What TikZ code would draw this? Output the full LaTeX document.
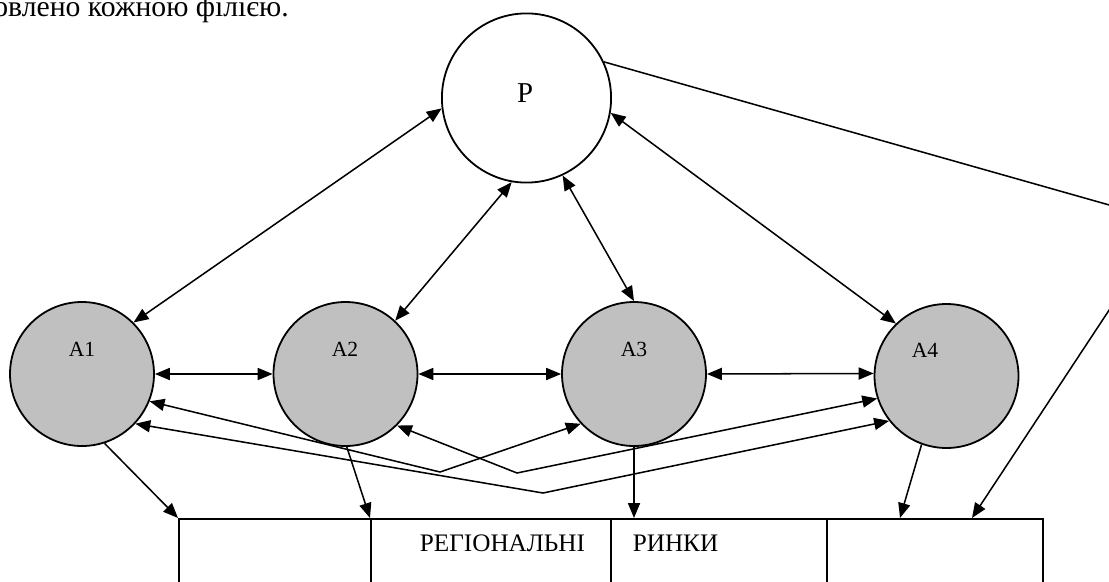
\documentclass[tikz,border=0pt]{standalone}
\usepackage{fontspec}
\setmainfont{Liberation Serif}
\usetikzlibrary{arrows.meta}
\definecolor{agentgray}{HTML}{C0C0C0}
\begin{document}
\begin{tikzpicture}[x=0.5556pt,y=-0.5556pt,
  tip/.tip={Triangle[length=8.3pt,width=6.7pt]},
  conn/.style={line width=0.85pt,-tip},
  biconn/.style={line width=0.85pt,tip-tip},
  agent/.style={circle,draw,line width=1pt,fill=agentgray,minimum size=80pt,inner sep=0pt},
  centre/.style={circle,draw,line width=1pt,fill=white,minimum size=94pt,inner sep=0pt},
  market/.style={rectangle,draw,line width=0.85pt,anchor=north west,minimum height=83pt,inner sep=0pt},
  lbl/.style={anchor=base,inner sep=0pt,font=\fontsize{12}{14}\selectfont},
  mlbl/.style={anchor=base,inner sep=0pt,font=\fontsize{14}{16}\selectfont}
]
\useasboundingbox (0,0) rectangle (1109,581);
\clip (0,0) rectangle (1109,581);

\node[anchor=base west,inner sep=0pt,font=\fontsize{16.5}{19}\selectfont] (top) at (-7,16.5) {овлено кожною філією.};

% circles
\node[centre] (P) at (526.5,98) {};
\node[agent] (A1) at (82,374) {};
\node[agent] (A2) at (345.5,374) {};
\node[agent] (A3) at (634,374) {};
\node[agent] (A4) at (946.5,376) {};

\node[anchor=base,inner sep=0pt,font=\fontsize{16}{19}\selectfont] (lP) at (525,102.7) {P};
\node[lbl] (l1) at (82,356) {A1};
\node[lbl] (l2) at (345,356) {A2};
\node[lbl] (l3) at (634,356) {A3};
\node[lbl] (l4) at (925,357.5) {A4};

% markets
\node[market,minimum width=106.7pt] (b1) at (178,518) {};
\node[market,minimum width=133.3pt] (b2) at (370,518) {};
\node[market,minimum width=120pt] (b3) at (610,518) {};
\node[market,minimum width=120pt] (b4) at (826,518) {};
\node[mlbl] (m1) at (502.5,551.7) {РЕГІОНАЛЬНІ};
\node[mlbl] (m2) at (675.5,551.7) {РИНКИ};

% coordinates
\coordinate (t3) at (634,518);
\coordinate (t4) at (900,518);
\coordinate (t5) at (972,518);
\coordinate (v1) at (440,472);
\coordinate (v2) at (517,473);
\coordinate (v3) at (543,493);
\coordinate (vr) at (1167.5,221.5);

% P links
\draw[biconn] (P.187) -- (A1.45);
\draw[biconn] (P.260) -- (A2.47.6);
\draw[biconn] (P.295.4) -- (A3.90);
\draw[biconn] (P.350.6) -- (A4.134);
\draw[conn] (P.25.2) -- (vr) -- (t5);

% horizontal links
\draw[biconn] (A1.0) -- (A2.180);
\draw[biconn] (A2.0) -- (A3.180);
\draw[biconn] (A3.0) -- (A4.178.4);

% crossing links
\draw[biconn] (A1.338) -- (v1) -- (A3.223);
\draw[biconn] (A2.315) -- (v2) -- (A4.198.6);
\draw[biconn] (A1.317) -- (v3) -- (A4.218.8);

% to markets
\draw[conn] (A1.288.4) -- (b1.north west);
\draw[conn] (A2.271) -- (b2.north west);
\draw[conn] (A3.270) -- (t3);
\draw[conn] (A4.250.7) -- (t4);
\end{tikzpicture}
\end{document}
